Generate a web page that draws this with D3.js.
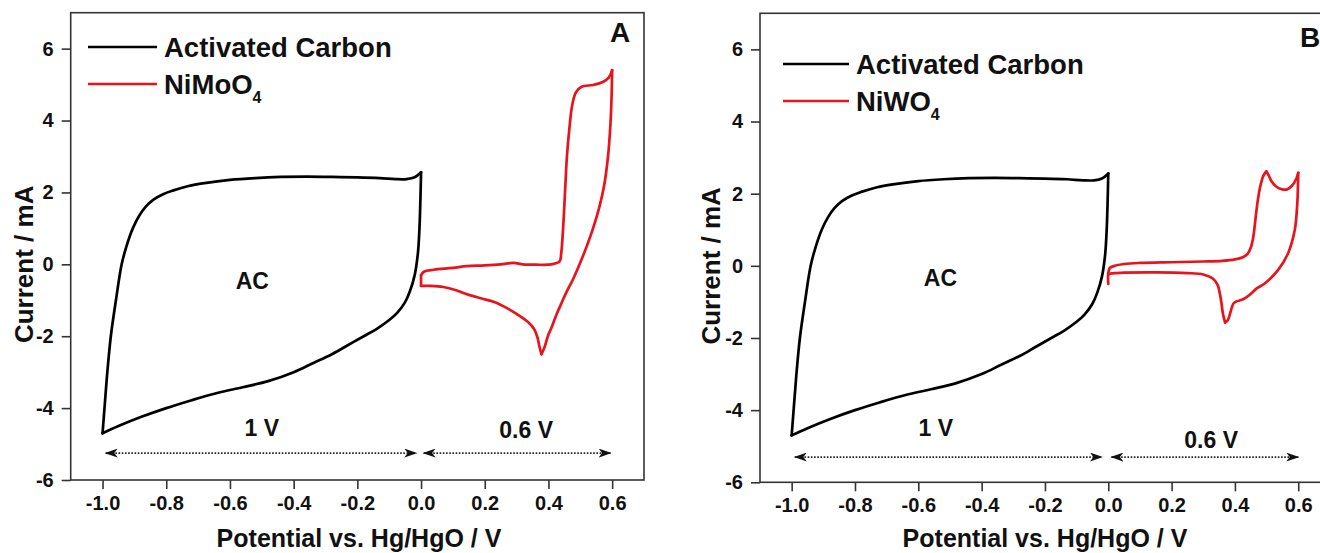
<!DOCTYPE html>
<html>
<head>
<meta charset="utf-8">
<script src="https://cdn.jsdelivr.net/npm/d3@7"></script>
<style>
  html, body { margin: 0; padding: 0; background: #fff; }
  svg { display: block; }
  text { font-family: "Liberation Sans", Arial, Helvetica, sans-serif; font-weight: bold; fill: #111; }
</style>
</head>
<body>
<svg id="chart" width="1320" height="553"></svg>
<script>
// ---------- data ----------
const xMajorTicks = [-1.0, -0.8, -0.6, -0.4, -0.2, 0.0, 0.2, 0.4, 0.6];
const xMinorTicks = [-1.1, -0.9, -0.7, -0.5, -0.3, -0.1, 0.1, 0.3, 0.5, 0.7];
const yMajorTicks = [-6, -4, -2, 0, 2, 4, 6];
const yMinorTicks = [-5, -3, -1, 1, 3, 5, 7];

// Activated carbon CV loop (potential V, current mA)
const acV = [0.0, -0.002, -0.005, -0.01, -0.02, -0.035, -0.05, -0.075, -0.1, -0.14, -0.18, -0.23, -0.28, -0.34, -0.40, -0.48, -0.56, -0.64, -0.72, -0.80, -0.88, -0.95, -1.0,
             -0.993, -0.985, -0.974, -0.958, -0.94, -0.925, -0.905, -0.885, -0.865, -0.84, -0.81, -0.78, -0.73, -0.68, -0.6, -0.52, -0.44, -0.36, -0.28, -0.2, -0.13, -0.08, -0.045, -0.02, 0.0];
const acI = [2.56, 1.8, 1.0, 0.3, -0.3, -0.75, -1.05, -1.35, -1.55, -1.8, -2.0, -2.25, -2.5, -2.75, -3.0, -3.25, -3.42, -3.58, -3.78, -4.0, -4.25, -4.5, -4.7,
             -3.9, -3.0, -2.0, -1.0, 0.0, 0.5, 1.0, 1.35, 1.6, 1.8, 1.95, 2.05, 2.18, 2.26, 2.35, 2.4, 2.43, 2.44, 2.43, 2.42, 2.4, 2.37, 2.37, 2.42, 2.56];
const acBreaks = [22];

// NiMoO4 CV loop
const nimoV = [0.0, 0.0, 0.01, 0.04, 0.1, 0.143, 0.2, 0.25, 0.29, 0.32, 0.36, 0.41, 0.435, 0.44, 0.446, 0.452, 0.458, 0.466, 0.474, 0.486, 0.504, 0.54, 0.572, 0.59, 0.6,
               0.598, 0.594, 0.587, 0.575, 0.56, 0.54, 0.52, 0.5, 0.478, 0.455, 0.44, 0.425, 0.41, 0.398, 0.388, 0.378, 0.372, 0.366, 0.355, 0.335, 0.3, 0.27, 0.23, 0.19, 0.15, 0.11, 0.07, 0.03, 0.0];
const nimoI = [-0.6, -0.3, -0.2, -0.15, -0.1, -0.05, -0.03, 0.0, 0.04, 0.0, -0.01, 0.0, 0.08, 0.3, 1.0, 2.0, 3.0, 3.8, 4.4, 4.78, 4.94, 4.99, 5.08, 5.2, 5.4,
               4.6, 3.8, 3.0, 2.2, 1.6, 1.0, 0.5, 0.05, -0.4, -0.8, -1.1, -1.4, -1.75, -2.0, -2.3, -2.5, -2.3, -2.05, -1.8, -1.6, -1.38, -1.22, -1.05, -0.95, -0.85, -0.72, -0.63, -0.6, -0.6];
const nimoBreaks = [1, 24, 40];

// NiWO4 CV loop
const niwV = [0.0, 0.0, 0.005, 0.02, 0.05, 0.1, 0.2, 0.3, 0.36, 0.4, 0.425, 0.44, 0.45, 0.458, 0.465, 0.472, 0.48, 0.49, 0.499, 0.507, 0.515, 0.53, 0.55, 0.565, 0.58, 0.592, 0.6,
              0.599, 0.597, 0.589, 0.568, 0.536, 0.494, 0.47, 0.452, 0.435, 0.42, 0.404, 0.395, 0.388, 0.378, 0.369, 0.362, 0.357, 0.352, 0.345, 0.33, 0.3, 0.25, 0.15, 0.05, 0.01, 0.0];
const niwI = [-0.5, -0.2, -0.06, 0.0, 0.05, 0.08, 0.1, 0.12, 0.14, 0.18, 0.24, 0.33, 0.5, 0.8, 1.3, 1.8, 2.2, 2.5, 2.62, 2.5, 2.35, 2.2, 2.12, 2.12, 2.22, 2.38, 2.58,
              2.2, 1.73, 0.99, 0.35, -0.12, -0.49, -0.62, -0.76, -0.88, -0.95, -0.99, -1.05, -1.22, -1.5, -1.57, -1.32, -1.0, -0.75, -0.52, -0.35, -0.24, -0.2, -0.18, -0.19, -0.21, -0.24];
const niwBreaks = [18, 26, 41];

const panels = [
  { id: "A", letter: "A", redName: "NiMoO", redV: nimoV, redI: nimoI, redBreaks: nimoBreaks,
    xr: [70.7, 644], yr: [480, 12.7],
    legend: { x1: 88, x2: 157, tx: 164, y1: 47, y2: 84 },
    letterPos: [620, 42],
    acLabel: [-0.53, -0.45], oneV: [-0.5, -4.55], sixV: [0.33, -4.62],
    arrowY: -5.25, arrows: [[-0.99, -0.015], [0.008, 0.595]], yTitleX: 24, xTitleX: 359 },
  { id: "B", letter: "B", redName: "NiWO", redV: niwV, redI: niwI, redBreaks: niwBreaks,
    xr: [760, 1329.9], yr: [482.3, 13.3],
    legend: { x1: 783, x2: 849, tx: 856, y1: 64, y2: 101 },
    letterPos: [1300, 47],
    acLabel: [-0.53, -0.34], oneV: [-0.545, -4.5], sixV: [0.325, -4.82],
    arrowY: -5.3, arrows: [[-0.99, -0.02], [0.01, 0.6]], yTitleX: 711, xTitleX: 1045 }
];

const svg = d3.select("#chart");
const defs = svg.append("defs");
defs.append("marker").attr("id", "headEnd").attr("viewBox", "0 0 13 9")
  .attr("refX", 12).attr("refY", 4.5).attr("markerWidth", 13).attr("markerHeight", 9)
  .attr("markerUnits", "userSpaceOnUse").attr("orient", "auto")
  .append("path").attr("d", "M0,0 L13,4.5 L0,9 L3.5,4.5 Z").attr("fill", "#111");
defs.append("marker").attr("id", "headStart").attr("viewBox", "0 0 13 9")
  .attr("refX", 1).attr("refY", 4.5).attr("markerWidth", 13).attr("markerHeight", 9)
  .attr("markerUnits", "userSpaceOnUse").attr("orient", "auto")
  .append("path").attr("d", "M13,0 L0,4.5 L13,9 L9.5,4.5 Z").attr("fill", "#111");

const fmt = d => d3.format(".1f")(d).replace("\u2212", "-");
const fmtY = d => String(d);

function segments(V, I, breaks) {
  const pts = V.map((v, i) => [v, I[i]]);
  const cuts = [0, ...breaks, pts.length - 1];
  const segs = [];
  for (let k = 0; k < cuts.length - 1; k++) segs.push(pts.slice(cuts[k], cuts[k + 1] + 1));
  return segs;
}

panels.forEach(p => {
  const x = d3.scaleLinear().domain([-1.1, 0.7]).range(p.xr);
  const y = d3.scaleLinear().domain([-6, 7]).range(p.yr);
  const g = svg.append("g");

  // frame
  g.append("rect").attr("x", p.xr[0]).attr("y", p.yr[1])
    .attr("width", p.xr[1] - p.xr[0]).attr("height", p.yr[0] - p.yr[1])
    .attr("fill", "none").attr("stroke", "#333").attr("stroke-width", 1.6);

  // x axis
  const xa = g.append("g").attr("transform", `translate(0,${p.yr[0]})`);
  xa.call(d3.axisBottom(x).tickValues(xMinorTicks).tickSize(5).tickFormat(""));
  xa.call(d3.axisBottom(x).tickValues(xMajorTicks).tickSize(9).tickFormat(fmt).tickPadding(7));
  xa.selectAll(".domain").remove();
  xa.selectAll("line").attr("stroke", "#333").attr("stroke-width", 1.6);
  xa.selectAll("text").attr("font-size", 20).attr("fill", "#111")
    .style("font-family", '"Liberation Sans", Arial, sans-serif').style("font-weight", "bold");

  // y axis
  const ya = g.append("g").attr("transform", `translate(${p.xr[0]},0)`);
  ya.call(d3.axisLeft(y).tickValues(yMinorTicks).tickSize(5).tickFormat(""));
  ya.call(d3.axisLeft(y).tickValues(yMajorTicks).tickSize(9).tickFormat(fmtY).tickPadding(8));
  ya.selectAll(".domain").remove();
  ya.selectAll("line").attr("stroke", "#333").attr("stroke-width", 1.6);
  ya.selectAll("text").attr("font-size", 20).attr("fill", "#111")
    .style("font-family", '"Liberation Sans", Arial, sans-serif').style("font-weight", "bold");

  // axis titles
  g.append("text").attr("x", p.xTitleX).attr("y", 547).attr("text-anchor", "middle").attr("font-size", 25)
    .text("Potential vs. Hg/HgO / V");
  g.append("text").attr("transform", `translate(${p.yTitleX},${y(0)}) rotate(-90)`)
    .attr("text-anchor", "middle").attr("dy", "0.35em").attr("font-size", 26)
    .text("Current / mA");

  const line = d3.line().x(d => x(d[0])).y(d => y(d[1])).curve(d3.curveCatmullRom.alpha(0.5));

  // AC curve
  segments(acV, acI, acBreaks).forEach(s => {
    g.append("path").datum(s).attr("d", line).attr("fill", "none").attr("stroke", "#000")
      .attr("stroke-width", 2.7).attr("stroke-linejoin", "round").attr("stroke-linecap", "round");
  });
  // red curve
  segments(p.redV, p.redI, p.redBreaks).forEach(s => {
    g.append("path").datum(s).attr("d", line).attr("fill", "none").attr("stroke", "#e8141b")
      .attr("stroke-width", 2.7).attr("stroke-linejoin", "round").attr("stroke-linecap", "round");
  });

  // arrows
  p.arrows.forEach(a => {
    g.append("line").attr("x1", x(a[0])).attr("x2", x(a[1]))
      .attr("y1", y(p.arrowY)).attr("y2", y(p.arrowY))
      .attr("stroke", "#222").attr("stroke-width", 1.7).attr("stroke-dasharray", "1.6,1.6")
      .attr("marker-start", "url(#headStart)").attr("marker-end", "url(#headEnd)");
  });

  // annotations
  g.append("text").attr("x", x(p.acLabel[0])).attr("y", y(p.acLabel[1])).attr("text-anchor", "middle")
    .attr("dy", "0.35em").attr("font-size", 23).text("AC");
  g.append("text").attr("x", x(p.oneV[0])).attr("y", y(p.oneV[1])).attr("text-anchor", "middle")
    .attr("dy", "0.35em").attr("font-size", 23).text("1 V");
  g.append("text").attr("x", x(p.sixV[0])).attr("y", y(p.sixV[1])).attr("text-anchor", "middle")
    .attr("dy", "0.35em").attr("font-size", 23).text("0.6 V");
  g.append("text").attr("x", p.letterPos[0]).attr("y", p.letterPos[1]).attr("text-anchor", p.id === "A" ? "middle" : "start")
    .attr("font-size", 28).text(p.letter);

  // legend
  const L = p.legend;
  g.append("line").attr("x1", L.x1).attr("x2", L.x2).attr("y1", L.y1).attr("y2", L.y1)
    .attr("stroke", "#000").attr("stroke-width", 2.7);
  g.append("text").attr("x", L.tx).attr("y", L.y1).attr("dy", "0.35em").attr("font-size", 27.5)
    .text("Activated Carbon");
  g.append("line").attr("x1", L.x1).attr("x2", L.x2).attr("y1", L.y2).attr("y2", L.y2)
    .attr("stroke", "#e8141b").attr("stroke-width", 2.7);
  const t = g.append("text").attr("x", L.tx).attr("y", L.y2).attr("dy", "0.35em").attr("font-size", 27.5);
  t.append("tspan").text(p.redName);
  t.append("tspan").attr("font-size", 16).attr("dy", "9").text("4");
});
</script>
</body>
</html>
